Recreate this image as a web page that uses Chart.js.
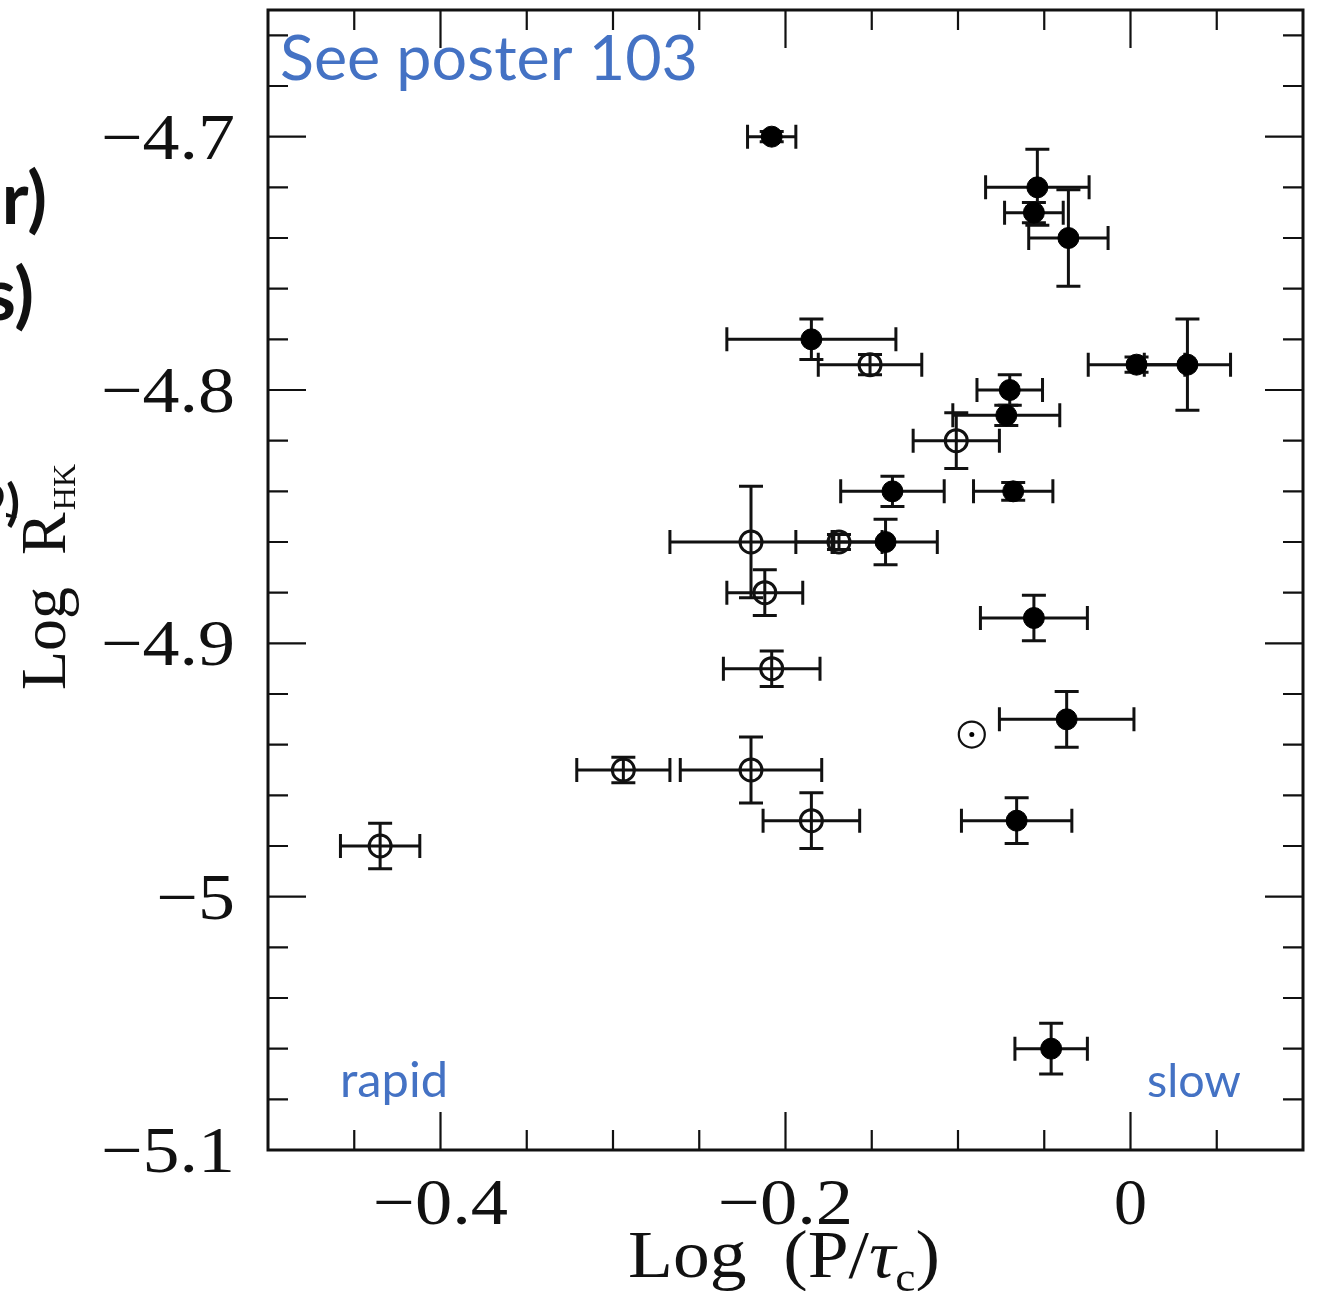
<!DOCTYPE html>
<html>
<head>
<meta charset="utf-8">
<script src="https://cdn.jsdelivr.net/npm/chart.js@4.4.1/dist/chart.umd.min.js"></script>
<style>
  html, body { margin: 0; padding: 0; background: #fff; }
  #wrap { width: 1321px; height: 1291px; overflow: hidden; }
</style>
</head>
<body>
<div id="wrap"><canvas id="chart" width="1321" height="1291"></canvas></div>
<script>
// filled symbols
const filledX    = [-0.208, -0.054, -0.056, -0.036, -0.185, 0.0035, 0.033, -0.070, -0.072, -0.138, -0.068, -0.142, -0.056, -0.037, -0.066, -0.046];
const filledY    = [-4.700, -4.720, -4.730, -4.740, -4.780, -4.790, -4.790, -4.800, -4.810, -4.840, -4.840, -4.860, -4.890, -4.930, -4.970, -5.060];
const filledXErr = [0.014, 0.030, 0.017, 0.023, 0.049, 0.028, 0.025, 0.019, 0.031, 0.030, 0.023, 0.030, 0.031, 0.039, 0.032, 0.021];
const filledYErr = [0.002, 0.015, 0.004, 0.019, 0.008, 0.003, 0.018, 0.006, 0.004, 0.006, 0.0035, 0.009, 0.009, 0.011, 0.009, 0.010];

// open symbols
const openX    = [-0.151, -0.101, -0.220, -0.169, -0.212, -0.208, -0.294, -0.220, -0.185, -0.435];
const openY    = [-4.790, -4.820, -4.860, -4.860, -4.880, -4.910, -4.950, -4.950, -4.970, -4.980];
const openXErr = [0.030, 0.025, 0.047, 0.025, 0.022, 0.028, 0.027, 0.041, 0.028, 0.023];
const openYErr = [0.004, 0.011, 0.022, 0.003, 0.009, 0.007, 0.005, 0.013, 0.011, 0.009];

// the Sun
const sunX = [-0.092];
const sunY = [-4.936];

// axes
const xMajor = [-0.4, -0.2, 0];
const xMajorLabels = ["\u22120.4", "\u22120.2", "0"];
const xMinor = [-0.45, -0.35, -0.3, -0.25, -0.15, -0.1, -0.05, 0.05];
const yMajor = [-5.1, -5, -4.9, -4.8, -4.7];
const yMajorLabels = ["\u22125.1", "\u22125", "\u22124.9", "\u22124.8", "\u22124.7"];
const yMinor = [-5.08, -5.06, -5.04, -5.02, -4.98, -4.96, -4.94, -4.92, -4.88, -4.86,
                -4.84, -4.82, -4.78, -4.76, -4.74, -4.72, -4.68, -4.66];

const toPts = (xs, ys) => xs.map((v, i) => ({ x: v, y: ys[i] }));

const SERIF = '"Liberation Serif", "DejaVu Serif", serif';
const SANS = '"Lato", "Open Sans", sans-serif';
const BLUE = "#4472c4";

const errorBars = {
  id: "errorBars",
  beforeDatasetsDraw(chart) {
    const { ctx } = chart;
    const sx = chart.scales.x, sy = chart.scales.y;
    ctx.save();
    ctx.strokeStyle = "#111";
    ctx.lineWidth = 3;
    const cap = 12;
    chart.data.datasets.forEach((ds) => {
      if (!ds.xErr) return;
      ds.data.forEach((p, i) => {
        const cx = sx.getPixelForValue(p.x), cy = sy.getPixelForValue(p.y);
        const xl = sx.getPixelForValue(p.x - ds.xErr[i]);
        const xr = sx.getPixelForValue(p.x + ds.xErr[i]);
        const yt = sy.getPixelForValue(p.y + ds.yErr[i]);
        const yb = sy.getPixelForValue(p.y - ds.yErr[i]);
        ctx.beginPath();
        ctx.moveTo(xl, cy); ctx.lineTo(xr, cy);
        ctx.moveTo(xl, cy - cap); ctx.lineTo(xl, cy + cap);
        ctx.moveTo(xr, cy - cap); ctx.lineTo(xr, cy + cap);
        ctx.moveTo(cx, yt); ctx.lineTo(cx, yb);
        ctx.moveTo(cx - cap, yt); ctx.lineTo(cx + cap, yt);
        ctx.moveTo(cx - cap, yb); ctx.lineTo(cx + cap, yb);
        ctx.stroke();
      });
    });
    ctx.restore();
  }
};

// draw text stretched horizontally to a target width
function stretched(ctx, parts, x, y, target) {
  let w = 0;
  parts.forEach((p) => { ctx.font = p.font; w += ctx.measureText(p.t).width; });
  const k = target / w;
  ctx.save();
  ctx.translate(x, y);
  ctx.scale(k, 1);
  let tx = 0;
  parts.forEach((p) => {
    ctx.font = p.font;
    ctx.fillText(p.t, tx, p.dy || 0);
    tx += ctx.measureText(p.t).width;
  });
  ctx.restore();
}

const frame = {
  id: "frame",
  afterDraw(chart) {
    const { ctx, chartArea: a } = chart;
    const sx = chart.scales.x, sy = chart.scales.y;
    ctx.save();
    ctx.strokeStyle = "#111";
    ctx.lineWidth = 3;
    ctx.strokeRect(a.left, a.top, a.right - a.left, a.bottom - a.top);

    const big = 38, small = 20;
    ctx.lineWidth = 2.2;
    ctx.beginPath();
    const xt = (v, len) => {
      const p = sx.getPixelForValue(v);
      ctx.moveTo(p, a.bottom); ctx.lineTo(p, a.bottom - len);
      ctx.moveTo(p, a.top); ctx.lineTo(p, a.top + len);
    };
    const yt = (v, len) => {
      const p = sy.getPixelForValue(v);
      ctx.moveTo(a.left, p); ctx.lineTo(a.left + len, p);
      ctx.moveTo(a.right, p); ctx.lineTo(a.right - len, p);
    };
    xMajor.forEach((v) => xt(v, big));
    xMinor.forEach((v) => xt(v, small));
    yMajor.forEach((v) => yt(v, big));
    yMinor.forEach((v) => yt(v, small));
    ctx.stroke();

    // tick labels
    ctx.fillStyle = "#111";
    ctx.textBaseline = "alphabetic";
    ctx.textAlign = "left";
    const tickFont = "66px " + SERIF;
    xMajor.forEach((v, i) => {
      const t = xMajorLabels[i];
      ctx.font = tickFont;
      const w = ctx.measureText(t).width * (t.length > 1 ? 1.13 : 1);
      stretched(ctx, [{ t, font: tickFont }], sx.getPixelForValue(v) - w / 2, a.bottom + 74, w);
    });
    yMajor.forEach((v, i) => {
      const t = yMajorLabels[i];
      ctx.font = tickFont;
      const w = ctx.measureText(t).width * 1.12;
      stretched(ctx, [{ t, font: tickFont }], a.left - 33 - w, sy.getPixelForValue(v) + 22, w);
    });

    // x title: Log (P/tau_c)
    stretched(ctx, [
      { t: "Log\u2002(P/", font: "68px " + SERIF },
      { t: "\u03c4", font: "italic 68px " + SERIF },
      { t: "c", font: "42px " + SERIF, dy: 14 },
      { t: ")", font: "68px " + SERIF }
    ], 628, 1277, 312);

    // y title: Log R'HK (rotated)
    ctx.save();
    ctx.translate(65, 690);
    ctx.rotate(-Math.PI / 2);
    ctx.font = "64px " + SERIF;
    ctx.fillText("Log\u2002R", 0, 0);
    const rx = ctx.measureText("Log\u2002R").width;
    ctx.font = "44px " + SERIF;
    ctx.fillText("\u2032", rx - 8, -30);
    ctx.font = "32px " + SERIF;
    ctx.fillText("HK", rx + 2, 10);
    ctx.restore();

    // blue annotations
    ctx.fillStyle = BLUE;
    const fit = (t, target) => {
      ctx.font = "100px " + SANS;
      return 100 * target / ctx.measureText(t).width;
    };
    ctx.font = fit("See poster 103", 418) + "px " + SANS;
    ctx.fillText("See poster 103", 280, 80);
    ctx.font = fit("rapid", 108) + "px " + SANS;
    ctx.fillText("rapid", 340, 1097);
    ctx.font = fit("slow", 94) + "px " + SANS;
    ctx.fillText("slow", 1147, 1097);

    // slide text cut off at the left edge
    ctx.fillStyle = "#111";
    ctx.textAlign = "right";
    ctx.font = "bold 72px " + SANS;
    ctx.fillText("r)", 47, 224);
    ctx.fillText("s)", 34, 320);
    ctx.font = "bold 50px " + SANS;
    ctx.fillText("9)", 20, 520);
    ctx.restore();
  }
};

new Chart(document.getElementById("chart"), {
  type: "scatter",
  data: {
    datasets: [
      {
        label: "Sun centre",
        data: toPts(sunX, sunY),
        order: 0,
        pointStyle: "circle",
        pointRadius: 2.5,
        backgroundColor: "#000",
        borderColor: "#000",
        borderWidth: 0
      },
      {
        label: "Sun",
        data: toPts(sunX, sunY),
        order: 1,
        pointStyle: "circle",
        pointRadius: 13,
        backgroundColor: "rgba(0,0,0,0)",
        borderColor: "#111",
        borderWidth: 2.2
      },
      {
        label: "filled",
        data: toPts(filledX, filledY),
        order: 2,
        xErr: filledXErr,
        yErr: filledYErr,
        pointStyle: "circle",
        pointRadius: 10.5,
        backgroundColor: "#000",
        borderColor: "#000",
        borderWidth: 1
      },
      {
        label: "open",
        data: toPts(openX, openY),
        order: 3,
        xErr: openXErr,
        yErr: openYErr,
        pointStyle: "circle",
        pointRadius: 11,
        backgroundColor: "rgba(0,0,0,0)",
        borderColor: "#111",
        borderWidth: 3
      }
    ]
  },
  options: {
    responsive: false,
    animation: false,
    layout: { autoPadding: false, padding: { left: 268, top: 10, right: 18, bottom: 141 } },
    scales: {
      x: { type: "linear", min: -0.5, max: 0.1, display: false },
      y: { type: "linear", min: -5.1, max: -4.65, display: false }
    },
    plugins: {
      legend: { display: false },
      tooltip: { enabled: false }
    }
  },
  plugins: [errorBars, frame]
});
</script>
</body>
</html>
